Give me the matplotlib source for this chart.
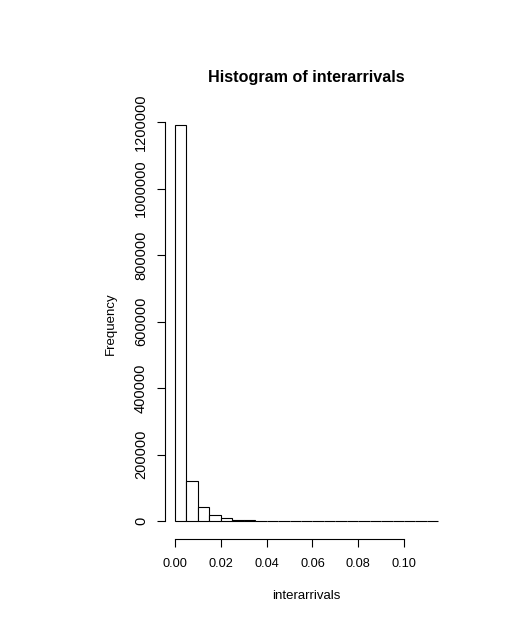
import matplotlib
matplotlib.use("Agg")
import matplotlib.pyplot as plt
import numpy as np

plt.rcParams['font.family'] = ['Liberation Sans', 'DejaVu Sans']

# Data
bin_width = 0.005
bin_edges = [round(i * bin_width, 3) for i in range(24)]
counts = [1190000, 121000, 41000, 17000, 8000, 4000, 2000, 1200, 700, 400,
          250, 150, 100, 70, 50, 30, 20, 15, 10, 8, 5, 3, 2]
x_ticks = [0.00, 0.02, 0.04, 0.06, 0.08, 0.10]
x_tick_labels = ["0.00", "0.02", "0.04", "0.06", "0.08", "0.10"]
y_ticks = [0, 200000, 400000, 600000, 800000, 1000000, 1200000]
y_tick_labels = ["0", "200000", "400000", "600000", "800000", "1000000", "1200000"]

W, H = 531, 643
fig = plt.figure(figsize=(W / 100, H / 100), dpi=100)
left_px, right_px, top_px, bottom_px = 164.5, 448.9, 107.4, 539.0
ax = fig.add_axes([left_px / W, 1 - bottom_px / H,
                   (right_px - left_px) / W, (bottom_px - top_px) / H])

ax.bar(bin_edges[:-1], counts, width=bin_width, align='edge',
       facecolor='white', edgecolor='black', linewidth=0.8)

ax.set_xlim(-0.0046, 0.1196)
ax.set_ylim(-54000, 1244000)

for s in ['top', 'right']:
    ax.spines[s].set_visible(False)
ax.spines['bottom'].set_bounds(0, 0.1)
ax.spines['left'].set_bounds(0, 1200000)
ax.spines['bottom'].set_linewidth(0.8)
ax.spines['left'].set_linewidth(0.8)

ax.set_xticks(x_ticks)
ax.set_xticklabels(x_tick_labels, fontsize=9.2)
ax.set_yticks(y_ticks)
ax.set_yticklabels(y_tick_labels, fontsize=10.5, rotation=90, va='center')
ax.tick_params(axis='both', direction='out', length=5.5, width=0.8)
ax.tick_params(axis='x', pad=8)
ax.tick_params(axis='y', pad=6.4)

ax.set_title("Histogram of interarrivals", fontsize=11.6, fontweight='bold', pad=18.5)
ax.set_xlabel("interarrivals", fontsize=9.5, labelpad=14.5)
ax.set_ylabel("Frequency", fontsize=9.5, labelpad=12)

fig.savefig("out.png", dpi=100)
